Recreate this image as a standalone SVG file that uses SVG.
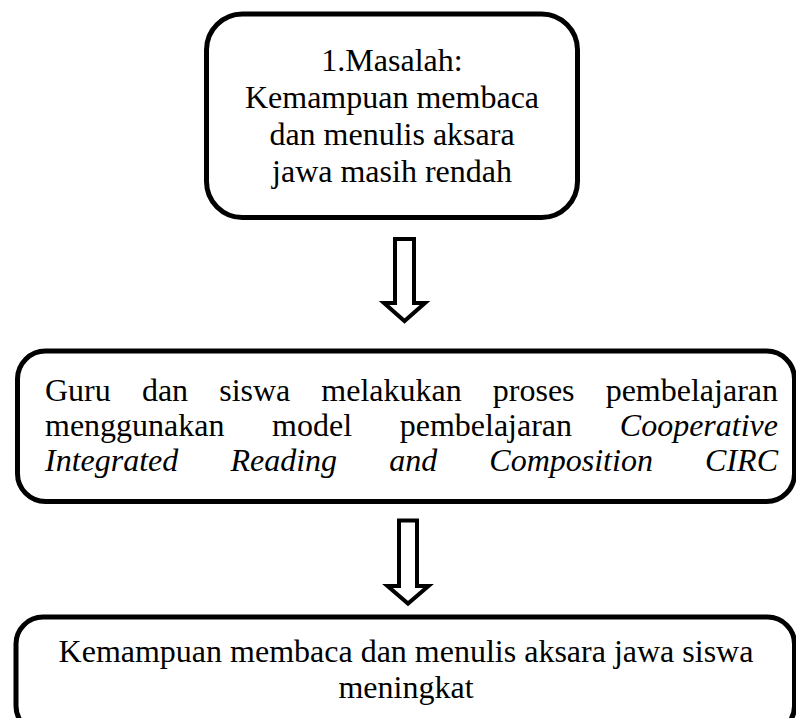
<svg xmlns="http://www.w3.org/2000/svg" width="796" height="718" viewBox="0 0 796 718">
<style>
.box{fill:#fff;stroke:#000;stroke-width:5}
.arr{fill:#fff;stroke:#000;stroke-width:4;stroke-linejoin:miter}
.t{font-family:'Liberation Serif','Times New Roman',Tinos,Times,'DejaVu Serif',serif;font-size:32px;fill:#000}
.c{text-anchor:middle}
.e{text-anchor:end}
.i{font-style:italic}
</style>
<rect width="796" height="718" fill="#fff"/>
<g id="connectors">
<polygon class="arr" points="395,239 414,239 414,303 425,303 404.5,321 384,303 395,303"/>
<polygon class="arr" points="399,520.5 417,520.5 417,586 428.5,586 408,603.5 387.5,586 399,586"/>
</g>
<g id="node1" class="t" font-family="Liberation Serif, serif">
<rect class="box" x="206.5" y="14" width="371" height="203.5" rx="36" ry="36"/>
<text class="c" x="392" y="71">1.Masalah:</text>
<text class="c" x="392" y="108">Kemampuan membaca</text>
<text class="c" x="392" y="145">dan menulis aksara</text>
<text class="c" x="392" y="182">jawa masih rendah</text>
</g>
<g id="node2" class="t" font-family="Liberation Serif, serif">
<rect class="box" x="17.5" y="351" width="777" height="150.5" rx="28" ry="28"/>
<text y="401"><tspan x="45">Guru</tspan><tspan x="141.9">dan</tspan><tspan x="219.2">siswa</tspan><tspan x="321.3">melakukan</tspan><tspan x="492.8">proses</tspan></text>
<text class="e" x="778" y="401">pembelajaran</text>
<text y="436"><tspan x="45">menggunakan</tspan><tspan x="272.1">model</tspan><tspan x="399.7">pembelajaran</tspan></text>
<text class="e i" x="778" y="436">Cooperative</text>
<text class="i" y="471"><tspan x="45">Integrated</tspan><tspan x="230.4">Reading</tspan><tspan x="389.2">and</tspan><tspan x="489.3">Composition</tspan></text>
<text class="e i" x="778" y="471">CIRC</text>
</g>
<g id="node3" class="t" font-family="Liberation Serif, serif">
<rect class="box" x="16" y="617" width="778.5" height="116" rx="27" ry="27"/>
<text class="c" x="406" y="662">Kemampuan membaca dan menulis aksara jawa siswa</text>
<text class="c" x="406" y="698">meningkat</text>
</g>
</svg>
